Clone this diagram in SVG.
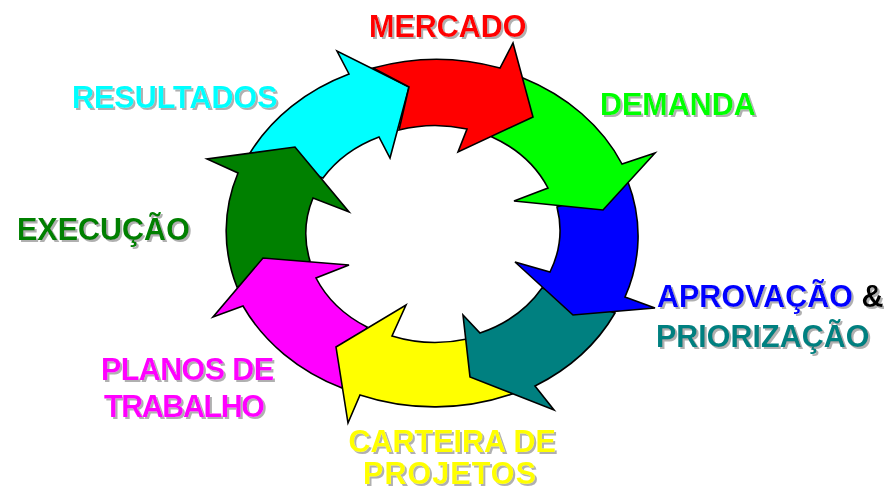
<svg xmlns="http://www.w3.org/2000/svg" width="884" height="489" viewBox="0 0 884 489">
<defs>
<style>
.arr{stroke:#000;stroke-width:1.6;stroke-linejoin:miter}
.lbl{font-family:"Liberation Sans",Arial,sans-serif;font-weight:bold;font-size:30.5px}
</style>
<filter id="sh" x="-10%" y="-20%" width="120%" height="150%">
<feOffset in="SourceAlpha" dx="2" dy="2" result="o"/>
<feFlood flood-color="#b0b0b0"/>
<feComposite in2="o" operator="in" result="s"/>
<feMerge><feMergeNode in="s"/><feMergeNode in="SourceGraphic"/></feMerge>
</filter>
</defs>
<rect width="884" height="489" fill="#fff"/>
<g id="connectors">
<path id="a-resultados" class="arr" fill="#00FFFF" d="M250,153 A205,174 0 0 1 349,74 L337,51 L409,87 L390,158 L379,137 A127,108 0 0 0 323,178 Z"/>
<path id="a-execucao" class="arr" fill="#008000" d="M237,287 A205,174 0 0 1 238,173 L207,159 L295,147 L349,212 L313,198 A127,108 0 0 0 310,261 Z"/>
<path id="a-planos" class="arr" fill="#FF00FF" d="M342,388 A205,174 0 0 1 243,306 L213,317 L263,258 L349,265 L316,278 A127,108 0 0 0 367,327 Z"/>
<path id="a-carteira" class="arr" fill="#FFFF00" d="M512,394 A205,174 0 0 1 360,395 L348,423 L336,347 L406,305 L392,336 A127,108 0 0 0 467,339 Z"/>
<path id="a-priorizacao" class="arr" fill="#008080" d="M615,313 A205,174 0 0 1 535,386 L554,410 L470,377 L463,315 L480,333 A127,108 0 0 0 542,288 Z"/>
<path id="a-aprovacao" class="arr" fill="#0000FF" d="M628,182 A205,174 0 0 1 625,297 L655,308 L573,315 L515,262 L550,272 A127,108 0 0 0 557,207 Z"/>
<path id="a-demanda" class="arr" fill="#00FF00" d="M523,78 A205,174 0 0 1 622,164 L655,153 L603,210 L514,201 L548,188 A127,108 0 0 0 492,137 Z"/>
<path id="a-mercado" class="arr" fill="#FF0000" d="M373,68 A205,174 0 0 1 500,68 L513,43 L533,117 L458,152 L467,129 A127,108 0 0 0 399,130 L409,87 Z"/>
</g>
<g id="labels" class="lbl" filter="url(#sh)">
<g id="n-mercado"><text x="369" y="36.5" fill="#FF0000">MERCADO</text></g>
<g id="n-demanda"><text x="600" y="115" fill="#00FF00">DEMANDA</text></g>
<g id="n-aprovacao"><text x="657" y="306.5" fill="#0000FF">APROVAÇÃO <tspan fill="#000">&amp;</tspan></text>
<text x="656" y="346.5" fill="#008080">PRIORIZAÇÃO</text></g>
<g id="n-carteira"><text x="348.5" y="451.5" fill="#FFFF00">CARTEIRA DE</text>
<text x="363" y="484" fill="#FFFF00" textLength="173" lengthAdjust="spacing">PROJETOS</text></g>
<g id="n-planos"><text x="101" y="380" fill="#FF00FF" textLength="173" lengthAdjust="spacing">PLANOS DE</text>
<text x="104" y="416.5" fill="#FF00FF" textLength="161" lengthAdjust="spacing">TRABALHO</text></g>
<g id="n-execucao"><text x="17" y="240" fill="#008000">EXECUÇÃO</text></g>
<g id="n-resultados"><text x="72" y="108" fill="#00FFFF">RESULTADOS</text></g>
</g>
</svg>
